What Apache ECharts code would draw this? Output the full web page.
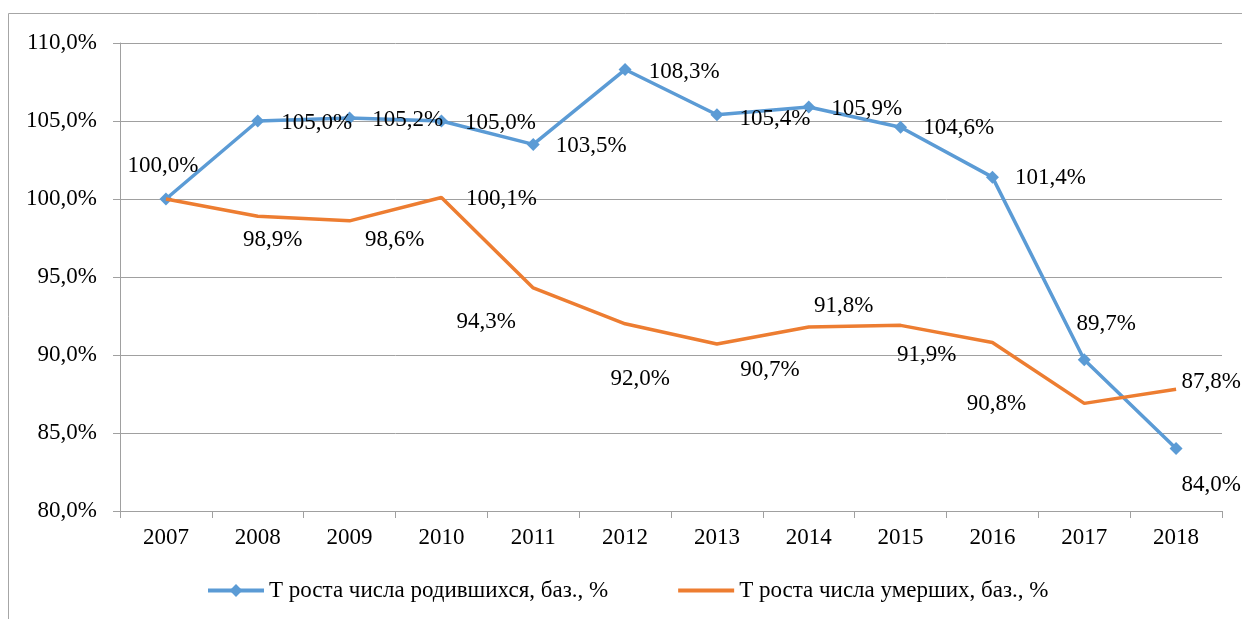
<!DOCTYPE html>
<html><head><meta charset="utf-8">
<script src="https://cdn.jsdelivr.net/npm/echarts@6/dist/echarts.min.js"></script>
<style>html,body{margin:0;padding:0;background:#fff;}#c{width:1242px;height:619px;}</style>
</head><body><div id="c"></div>
<script>
const categories = ['2007','2008','2009','2010','2011','2012','2013','2014','2015','2016','2017','2018'];
const birthsName = 'Т роста числа родившихся, баз., %';
const deathsName = 'Т роста числа умерших, баз., %';
const births = [100.0, 105.0, 105.2, 105.0, 103.5, 108.3, 105.4, 105.9, 104.6, 101.4, 89.7, 84.0];
const deaths = [100.0, 98.9, 98.6, 100.1, 94.3, 92.0, 90.7, 91.8, 91.9, 90.8, 86.9, 87.8];
const yTicks = {min: 80, max: 110, interval: 5};

// label placement (offset from point, px); null = no label
const birthsLabelOffsets = [[-3,-33],[59,2],[58,2],[59,2],[58,2],[59,2],[58,4],[58,2],[58,1],[58,1],[22,-36],[35,36]];
const deathsLabelOffsets = [null,[15,24],[45,19],[60,2],[-47,34],[15,55],[53,26],[35,-21],[26,30],[4,61],null,[35,-7]];

const FONT = "'Liberation Serif','Times New Roman',serif";
const fmt = v => v.toFixed(1).replace('.', ',') + '%';

function buildData(values, offsets){
  return values.map((v,i)=>{
    const o = offsets[i];
    if(!o) return {value:v, label:{show:false}};
    return {value:v, label:{show:true, position:'inside', offset:o}};
  });
}
const labelStyle = {show:true, position:'inside', fontFamily:FONT, fontSize:23, color:'#000', opacity:1, formatter:p=>fmt(p.value)};

const chart = echarts.init(document.getElementById('c'), null, {renderer:'canvas'});
chart.setOption({
  backgroundColor:'#fff',
  animation:false,
  graphic:[{type:'rect', shape:{x:8.5,y:13.5,width:1400,height:800}, style:{fill:'none', stroke:'#a6a6a6', lineWidth:1}, silent:true}],
  grid:{left:120, right:20, top:43, bottom:108, containLabel:false},
  legend:{
    left:206, top:579, padding:0, itemWidth:56, itemHeight:16, itemGap:70,
    textStyle:{fontFamily:FONT, fontSize:23, color:'#000'},
    lineStyle:{width:4},
    data:[
      {name:birthsName},
      {name:deathsName, icon:'path://M0,0h54v4h-54z', itemStyle:{color:'#ed7d31'}}
    ]
  },
  xAxis:{
    type:'category', data:categories, boundaryGap:true,
    axisLine:{lineStyle:{color:'#a0a0a0', width:1}},
    axisTick:{show:true, alignWithLabel:false, length:7, lineStyle:{color:'#a0a0a0'}},
    axisLabel:{fontFamily:FONT, fontSize:23, color:'#000', margin:15},
    splitLine:{show:false}
  },
  yAxis:{
    type:'value', min:yTicks.min, max:yTicks.max, interval:yTicks.interval,
    axisLine:{show:true, lineStyle:{color:'#a0a0a0', width:1}},
    axisTick:{show:true, length:7, lineStyle:{color:'#a0a0a0'}},
    axisLabel:{fontFamily:FONT, fontSize:23, color:'#000', margin:23, formatter:v=>fmt(v)},
    splitLine:{show:true, lineStyle:{color:'#a0a0a0', width:1}}
  },
  series:[
    {
      name:birthsName, type:'line', data:buildData(births, birthsLabelOffsets),
      symbol:'diamond', symbolSize:13, showAllSymbol:true,
      itemStyle:{color:'#5b9bd5'}, lineStyle:{color:'#5b9bd5', width:3.5},
      label:labelStyle,
      emphasis:{disabled:true}, z:2
    },
    {
      name:deathsName, type:'line', data:deaths,
      symbol:'none', showSymbol:false,
      itemStyle:{color:'#ed7d31'}, lineStyle:{color:'#ed7d31', width:3.5},
      label:{show:false},
      emphasis:{disabled:true}, z:3
    },
    {
      name:'deathsLabels', type:'scatter', data:buildData(deaths, deathsLabelOffsets),
      symbol:'circle', symbolSize:1, itemStyle:{color:'rgba(0,0,0,0)', opacity:1},
      label:labelStyle, silent:true,
      emphasis:{disabled:true}, z:4
    }
  ]
});
</script></body></html>
